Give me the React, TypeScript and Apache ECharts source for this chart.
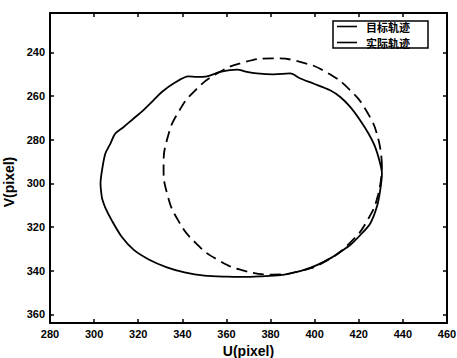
import React, { useEffect, useRef } from "react";
import * as echarts from "echarts";

// Target trajectory (dashed circle): [U, V]
const targetU = [430.5, 428.8, 423.9, 416.0, 405.8, 393.8, 381.0, 368.2, 356.3, 346.0, 338.1, 333.2, 331.5, 333.2, 338.1, 346.0, 356.3, 368.2, 381.0, 393.8, 405.8, 416.0, 423.9, 428.8, 430.5];
const targetV = [292.3, 279.5, 267.6, 257.3, 249.4, 244.5, 242.8, 244.5, 249.4, 257.3, 267.6, 279.5, 292.3, 305.1, 317.0, 327.3, 335.2, 340.1, 341.8, 340.1, 335.2, 327.3, 317.0, 305.1, 292.3];

const actualU = [303.6, 302.9, 303.6, 305.1, 307.4, 309.6, 313.4, 317.9, 322.4, 326.9, 330.7, 336.0, 342.8, 346.6, 351.2, 357.2, 364.8, 369.3, 373.8, 381.4, 388.9, 393.5, 399.4, 407.0, 411.6, 416.1, 420.6, 424.4, 427.4, 429.7, 430.5, 429.7, 428.2, 425.2, 420.6, 416.1, 411.6, 407.0, 401.0, 394.9, 388.9, 384.4, 376.0, 368.0, 360.0, 350.0, 341.0, 333.0, 325.0, 318.0, 312.5, 308.0, 305.0, 303.6];
const actualV = [307.0, 300.1, 294.0, 286.4, 281.8, 277.2, 274.2, 270.3, 266.5, 262.0, 258.2, 254.3, 251.0, 251.3, 251.0, 249.0, 247.9, 249.0, 249.7, 250.1, 249.7, 252.0, 254.3, 257.4, 260.5, 265.0, 271.1, 277.2, 283.3, 290.9, 295.5, 303.2, 310.8, 318.4, 323.8, 328.3, 331.4, 334.4, 337.5, 339.8, 341.3, 342.1, 342.6, 342.9, 342.8, 342.3, 340.8, 338.5, 335.0, 330.5, 324.5, 317.0, 311.0, 307.0];

const yTicks = [240, 260, 280, 300, 320, 340, 360];
const seriesNames = ["目标轨迹", "实际轨迹"];

const font = "'Liberation Sans', Arial, sans-serif";

export default function App() {
  const ref = useRef<HTMLDivElement>(null);
  useEffect(() => {
    if (!ref.current) return;
    const chart = echarts.init(ref.current, null, { renderer: "svg" });
    const axisCommon = {
      axisLine: { show: true, onZero: false, lineStyle: { color: "#000", width: 2 } },
      axisTick: { show: true, inside: true, length: 4, lineStyle: { color: "#000", width: 1.5 } },
      splitLine: { show: false },
    };
    chart.setOption({
      animation: false,
      backgroundColor: "#fff",
      grid: { left: 50, right: 10, top: 13, bottom: 35, containLabel: false, outerBoundsMode: "none" },
      legend: {
        orient: "vertical",
        left: 333,
        top: 21,
        data: [
          { name: seriesNames[0], icon: "rect" },
          { name: seriesNames[1], icon: "rect" },
        ],
        itemWidth: 20,
        itemHeight: 1.6,
        itemGap: 5,
        padding: [0, 18, 0, 4],
        borderColor: "#000",
        borderWidth: 1.5,
        backgroundColor: "#fff",
        textStyle: { fontSize: 11, fontWeight: "bold", color: "#000", lineHeight: 11, padding: [0, 0, 0, 4], fontFamily: "'Noto Sans CJK SC', sans-serif" },
      },
      xAxis: [
        {
          type: "value",
          min: 280,
          max: 460,
          interval: 20,
          position: "bottom",
          name: "U(pixel)",
          nameLocation: "middle",
          nameGap: 19,
          nameTextStyle: { fontSize: 14, fontWeight: "bold", color: "#000", fontFamily: font },
          axisLabel: { fontSize: 11, fontWeight: "bold", color: "#000", margin: 5, fontFamily: font, showMinLabel: true, showMaxLabel: true },
          ...axisCommon,
        },
        {
          type: "value",
          min: 280,
          max: 460,
          interval: 20,
          position: "top",
          axisLabel: { show: false },
          ...axisCommon,
        },
      ],
      yAxis: [
        {
          type: "value",
          inverse: true,
          min: 222,
          max: 364,
          position: "left",
          name: "V(pixel)",
          nameLocation: "middle",
          nameGap: 30,
          nameTextStyle: { fontSize: 14, fontWeight: "bold", color: "#000", fontFamily: font, padding: [0, 28, 0, 0] },
          axisLabel: { fontSize: 11, fontWeight: "bold", color: "#000", margin: 5, fontFamily: font, customValues: yTicks },
          ...axisCommon,
          axisTick: { ...axisCommon.axisTick, customValues: yTicks },
        },
        {
          type: "value",
          inverse: true,
          min: 222,
          max: 364,
          position: "right",
          axisLabel: { show: false, customValues: yTicks },
          ...axisCommon,
          axisTick: { ...axisCommon.axisTick, customValues: yTicks },
        },
      ],
      series: [
        {
          name: seriesNames[0],
          type: "line",
          data: targetU.map((u, i) => [u, targetV[i]]),
          smooth: true,
          symbol: "none",
          lineStyle: { color: "#000", width: 1.8, type: [11, 6] },
          itemStyle: { color: "#000" },
          z: 2,
        },
        {
          name: seriesNames[1],
          type: "line",
          data: actualU.map((u, i) => [u, actualV[i]]),
          smooth: 0.3,
          symbol: "none",
          lineStyle: { color: "#000", width: 1.8 },
          itemStyle: { color: "#000" },
          z: 3,
        },
      ],
    });
    return () => chart.dispose();
  }, []);
  return (
    <div
      ref={ref}
      style={{ position: "fixed", left: 0, top: 0, width: 457, height: 358, background: "#fff" }}
    />
  );
}
